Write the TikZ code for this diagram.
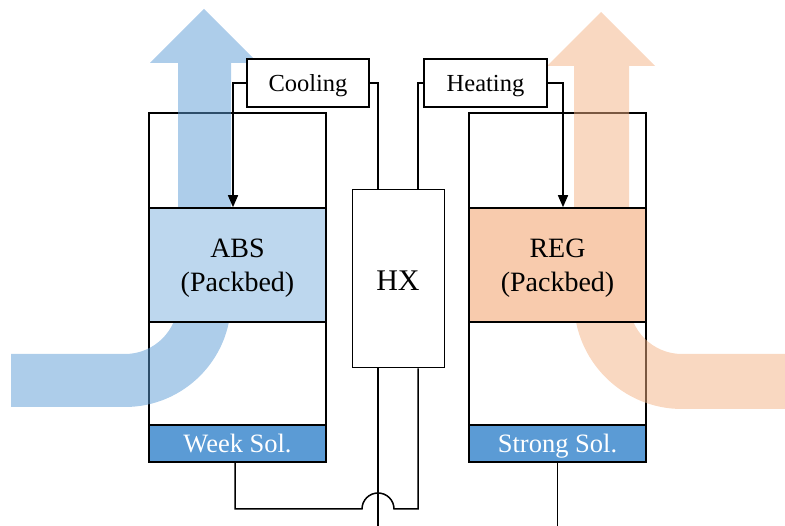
\documentclass[tikz,border=0pt]{standalone}
\usepackage{fontspec}
\setmainfont{Liberation Serif}
\usetikzlibrary{arrows.meta,calc}
\definecolor{absfill}{HTML}{BDD7EE}
\definecolor{regfill}{HTML}{F8CBAD}
\definecolor{solfill}{HTML}{5B9BD5}
\definecolor{coldflow}{HTML}{5B9BD5}
\definecolor{hotflow}{HTML}{F4B183}
\tikzset{
	vessel/.style={draw, line width=1.6pt, minimum width=177pt, minimum height=349pt, inner sep=0pt},
	bed/.style={draw, line width=1.6pt, minimum width=177pt, minimum height=114pt, align=center, text depth=0pt, font=\fontsize{28}{34}\selectfont},
	sol/.style={draw, line width=1.6pt, fill=solfill, text=white, minimum width=177pt, minimum height=37pt, inner sep=0pt, text depth=0pt, font=\fontsize{26.5}{30}\selectfont},
	tempbox/.style={draw, fill=white, line width=1.6pt, minimum width=122pt, minimum height=48pt, text depth=0pt, font=\fontsize{24.5}{28}\selectfont},
	pipe/.style={line width=1.5pt},
	flow/.style={opacity=0.5},
}

\begin{document}
\begin{tikzpicture}[x=1pt,y=-1pt]
			%%%%% START %%%%%
			\useasboundingbox (0,0) rectangle (785,526);
			
			\node[vessel] (absv) at (237.5,287.5) {};
			\node[vessel] (regv) at (557.5,287.5) {};
			
			% air streams
			\fill[coldflow, flow] (11,354) -- (125,354) arc (90:0:53) -- (178,63) -- (150,63) -- (204,9) -- (258,63) -- (231,63) -- (231,301) arc (0:90:106) -- (11,407) -- cycle;
			\fill[hotflow, flow] (785,354) -- (682,354) arc (90:180:53) -- (629,66) -- (655,66) -- (601,12) -- (547,66) -- (574,66) -- (574,301) arc (180:90:108) -- (785,409) -- cycle;
			
			\node[bed, fill=absfill] (abs) at (237.5,265) {ABS\\(Packbed)};
			\node[bed, fill=regfill] (reg) at (557.5,265) {REG\\(Packbed)};
			\node[sol] (weak) at (237.5,443.5) {Week Sol.};
			\node[sol] (strong) at (557.5,443.5) {Strong Sol.};
			
			\node[draw, fill=white, line width=1pt, minimum width=92pt, minimum height=178pt, text height=24pt, font=\fontsize{30}{34}\selectfont] (hx) at (398,279) {HX};
			\node[tempbox] (cool) at (308,83) {Cooling};
			\node[tempbox, minimum width=123pt] (heat) at (485.5,83) {Heating};
			
			% pipes
			\draw[pipe, -{Triangle[length=12pt,width=10pt]}] (cool.west) -| ([xshift=-4.5pt]abs.north);
			\draw[pipe] (cool.east) -| ([xshift=-20pt]hx.north);
			\draw[pipe] (heat.west) -| ([xshift=20pt]hx.north);
			\draw[pipe, -{Triangle[length=12pt,width=10pt]}] (heat.east) -| ([xshift=5.5pt]reg.north);
			
			\coordinate (bottom) at (0,526);
			\coordinate (hop) at (378,509);
			\draw[pipe] ([xshift=-20pt]hx.south) -- ([xshift=-20pt]hx.south |- bottom);
			\draw[pipe] ([xshift=-2.5pt]weak.south) |- ([xshift=-16pt]hop) arc (180:360:16) -| ([xshift=20pt]hx.south);
			\draw[pipe] (strong.south) -- (strong.south |- bottom);
			
			%%%%% END %%%%%
\end{tikzpicture}
\end{document}
